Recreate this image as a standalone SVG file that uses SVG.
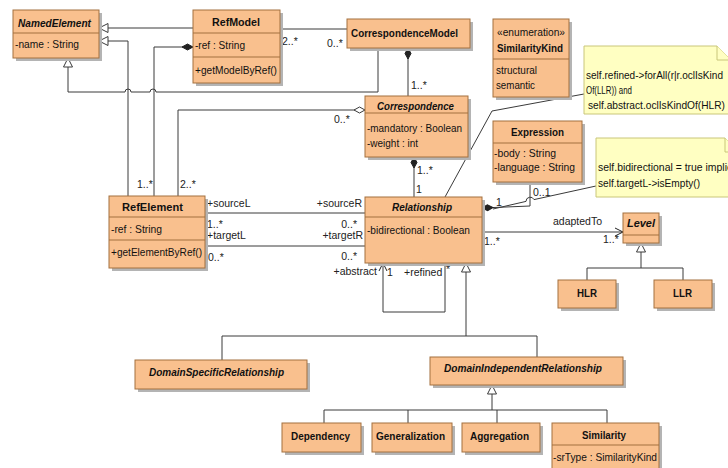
<svg xmlns="http://www.w3.org/2000/svg" width="728" height="468" viewBox="0 0 728 468">
<style>
.bx{fill:#F9C08E;stroke:#A3703F;stroke-width:1}
.sh{fill:#B4B4B4}
.dv{stroke:#A3703F;stroke-width:1}
.nt{fill:#FFFFC2;stroke:#C9C67A;stroke-width:1}
.t{font-family:"Liberation Sans",Arial,sans-serif;font-size:11px;fill:#111}
.b{font-weight:bold}
.i{font-style:italic}
.m{font-family:"Liberation Sans",Arial,sans-serif;font-size:10.5px;fill:#222}
.ln{fill:none;stroke:#3A3A3A;stroke-width:1}
</style>
<defs>
<marker id="gen" markerUnits="userSpaceOnUse" markerWidth="11" markerHeight="11" refX="9" refY="4.5" orient="auto" overflow="visible"><path d="M0,0 L9,4.5 L0,9 Z" fill="#fff" stroke="#3A3A3A" stroke-width="1"/></marker>
<marker id="comp" markerUnits="userSpaceOnUse" markerWidth="12" markerHeight="8" refX="0" refY="3" orient="auto" overflow="visible"><path d="M0,3 L5.5,0 L11,3 L5.5,6 Z" fill="#222" stroke="#222" stroke-width="1"/></marker>
<marker id="agg" markerUnits="userSpaceOnUse" markerWidth="12" markerHeight="8" refX="0" refY="3" orient="auto" overflow="visible"><path d="M0,3 L5.5,0 L11,3 L5.5,6 Z" fill="#fff" stroke="#3A3A3A" stroke-width="1"/></marker>
<marker id="arr" markerUnits="userSpaceOnUse" markerWidth="10" markerHeight="10" refX="8" refY="4" orient="auto" overflow="visible"><path d="M0,0 L8,4 L0,8" fill="none" stroke="#222" stroke-width="1"/></marker>
</defs>

<g id="connectors">
<path class="ln" d="M193,28 H99" marker-end="url(#gen)"/>
<path class="ln" d="M128,196 V41 H99" marker-end="url(#gen)"/>
<path class="ln" d="M378,48 V92 H156 a3,3 0 0 0 -6,0 H131 a3,3 0 0 0 -6,0 H68 V58" marker-end="url(#gen)"/>
<path class="ln" d="M193,47 H154 V196" marker-start="url(#comp)"/>
<path class="ln" d="M365,110 H178 V196" marker-start="url(#agg)"/>
<path class="ln" d="M280,29 H347"/>
<path class="ln" d="M408,48 V96" marker-start="url(#comp)"/>
<path class="ln" d="M414,157 V197" marker-start="url(#comp)"/>
<path class="ln" d="M482,208 L530,206 V182" marker-start="url(#comp)"/>
<path class="ln" d="M596,186 L534,199.6 a4.2,4.2 0 0 0 -8,1.8 L493,209"/>
<path class="ln" d="M445,197 L492,111 L584,94"/>
<path class="ln" d="M482,232 H623" marker-end="url(#arr)"/>
<path class="ln" d="M205,213 H365"/>
<path class="ln" d="M205,246 H365"/>
<path class="ln" d="M445,263 V312 H383 V263" marker-end="url(#arr)"/>
<path class="ln" d="M222,360 V336 H537 V357"/>
<path class="ln" d="M466,336 V263" marker-end="url(#gen)"/>
<path class="ln" d="M324,423 V410 H607 V423 M408,410 V423 M497,410 V423"/>
<path class="ln" d="M492,410 V385" marker-end="url(#gen)"/>
<path class="ln" d="M587,280 V268 H683 V280"/>
<path class="ln" d="M641,268 V243" marker-end="url(#gen)"/>
<g id="labels">
<text class="m" x="282" y="45">2..*</text>
<text class="m" x="327" y="47">0..*</text>
<text class="m" x="411" y="89">1..*</text>
<text class="m" x="334" y="123">0..*</text>
<text class="m" x="137" y="188">1..*</text>
<text class="m" x="180" y="188">2..*</text>
<text class="m" x="417" y="174">1..*</text>
<text class="m" x="416" y="193">1</text>
<text class="m" x="496" y="206">1</text>
<text class="m" x="533" y="196">0..1</text>
<text class="m" x="207" y="207">+sourceL</text>
<text class="m" x="362" y="207" text-anchor="end">+sourceR</text>
<text class="m" x="207" y="228">1..*</text>
<text class="m" x="207" y="239">+targetL</text>
<text class="m" x="357" y="228" text-anchor="end">0..*</text>
<text class="m" x="363" y="239" text-anchor="end">+targetR</text>
<text class="m" x="208" y="261">0..*</text>
<text class="m" x="357" y="260" text-anchor="end">0..*</text>
<text class="m" x="377" y="275" text-anchor="end">+abstract</text>
<text class="m" x="387" y="276">1</text>
<text class="m" x="404" y="276">+refined</text>
<text class="m" x="446" y="273">*</text>
<text class="m" x="553" y="225">adaptedTo</text>
<text class="m" x="603" y="243">1..*</text>
<text class="m" x="484" y="245">1..*</text>
</g>
</g>

<g id="NamedElement">
<rect class="sh" x="16" y="13" width="86" height="48"/>
<rect class="bx" x="13" y="10" width="86" height="48"/>
<line class="dv" x1="13" y1="33" x2="99" y2="33"/>
<text class="t b i" x="18" y="27" textLength="73" lengthAdjust="spacingAndGlyphs">NamedElement</text>
<text class="t" x="15" y="48" textLength="64" lengthAdjust="spacingAndGlyphs">-name : String</text>
</g>

<g id="RefModel">
<rect class="sh" x="196" y="13" width="87" height="73"/>
<rect class="bx" x="193" y="10" width="87" height="73"/>
<line class="dv" x1="193" y1="33" x2="280" y2="33"/>
<line class="dv" x1="193" y1="57" x2="280" y2="57"/>
<text class="t b" x="212" y="26" textLength="48" lengthAdjust="spacingAndGlyphs">RefModel</text>
<text class="t" x="195" y="49" textLength="50" lengthAdjust="spacingAndGlyphs">-ref : String</text>
<text class="t" x="195" y="74" textLength="82" lengthAdjust="spacingAndGlyphs">+getModelByRef()</text>
</g>

<g id="CorrespondenceModel">
<rect class="sh" x="350" y="22" width="123" height="29"/>
<rect class="bx" x="347" y="19" width="123" height="29"/>
<text class="t b" x="351" y="37" textLength="107" lengthAdjust="spacingAndGlyphs">CorrespondenceModel</text>
</g>

<g id="SimilarityKind">
<rect class="sh" x="496" y="22" width="76" height="78"/>
<rect class="bx" x="493" y="19" width="76" height="78"/>
<line class="dv" x1="493" y1="59" x2="569" y2="59"/>
<text class="t" x="497" y="36" textLength="68" lengthAdjust="spacingAndGlyphs">«enumeration»</text>
<text class="t b" x="497" y="52" textLength="66" lengthAdjust="spacingAndGlyphs">SimilarityKind</text>
<text class="t" x="496" y="74" textLength="41" lengthAdjust="spacingAndGlyphs">structural</text>
<text class="t" x="496" y="89" textLength="39" lengthAdjust="spacingAndGlyphs">semantic</text>
</g>

<g id="Note1">
<path class="nt" d="M584,46 H717 L731,60 V114 H584 Z"/>
<path class="nt" d="M717,46 V60 H731"/>
<text class="t" x="586" y="79" textLength="137" lengthAdjust="spacingAndGlyphs">self.refined-&gt;forAll(r|r.oclIsKind</text>
<text class="t" x="586" y="94" textLength="46" lengthAdjust="spacingAndGlyphs">Of(LLR)) and</text>
<text class="t" x="588" y="109" textLength="137" lengthAdjust="spacingAndGlyphs">self.abstract.oclIsKindOf(HLR)</text>
</g>

<g id="Expression">
<rect class="sh" x="496" y="124" width="89" height="61"/>
<rect class="bx" x="493" y="121" width="89" height="61"/>
<line class="dv" x1="493" y1="143" x2="582" y2="143"/>
<text class="t b" x="511" y="136" textLength="53" lengthAdjust="spacingAndGlyphs">Expression</text>
<text class="t" x="494" y="157" textLength="62" lengthAdjust="spacingAndGlyphs">-body : String</text>
<text class="t" x="494" y="171" textLength="81" lengthAdjust="spacingAndGlyphs">-language : String</text>
</g>

<g id="Note2">
<path class="nt" d="M596,138 H725 L739,152 V197 H596 Z"/>
<path class="nt" d="M725,138 V152 H739"/>
<text class="t" x="598" y="171" textLength="140" lengthAdjust="spacingAndGlyphs">self.bidirectional = true implies</text>
<text class="t" x="598" y="187" textLength="102" lengthAdjust="spacingAndGlyphs">self.targetL-&gt;isEmpty()</text>
</g>

<g id="Correspondence">
<rect class="sh" x="368" y="99" width="103" height="61"/>
<rect class="bx" x="365" y="96" width="103" height="61"/>
<line class="dv" x1="365" y1="113" x2="468" y2="113"/>
<text class="t b i" x="377" y="110" textLength="77" lengthAdjust="spacingAndGlyphs">Correspondence</text>
<text class="t" x="367" y="132" textLength="95" lengthAdjust="spacingAndGlyphs">-mandatory : Boolean</text>
<text class="t" x="367" y="147" textLength="51" lengthAdjust="spacingAndGlyphs">-weight : int</text>
</g>

<g id="RefElement">
<rect class="sh" x="112" y="199" width="96" height="72"/>
<rect class="bx" x="109" y="196" width="96" height="72"/>
<line class="dv" x1="109" y1="217" x2="205" y2="217"/>
<line class="dv" x1="109" y1="240" x2="205" y2="240"/>
<text class="t b" x="122" y="211" textLength="61" lengthAdjust="spacingAndGlyphs">RefElement</text>
<text class="t" x="111" y="233" textLength="51" lengthAdjust="spacingAndGlyphs">-ref : String</text>
<text class="t" x="111" y="256" textLength="91" lengthAdjust="spacingAndGlyphs">+getElementByRef()</text>
</g>

<g id="Relationship">
<rect class="sh" x="368" y="200" width="117" height="66"/>
<rect class="bx" x="365" y="197" width="117" height="66"/>
<line class="dv" x1="365" y1="217" x2="482" y2="217"/>
<text class="t b i" x="392" y="211" textLength="60" lengthAdjust="spacingAndGlyphs">Relationship</text>
<text class="t" x="367" y="234" textLength="103" lengthAdjust="spacingAndGlyphs">-bidirectional : Boolean</text>
</g>

<g id="Level">
<rect class="sh" x="626" y="216" width="36" height="30"/>
<rect class="bx" x="623" y="213" width="36" height="30"/>
<line class="dv" x1="623" y1="235" x2="659" y2="235"/>
<text class="t b i" x="627" y="227" textLength="28" lengthAdjust="spacingAndGlyphs">Level</text>
</g>

<g id="HLR">
<rect class="sh" x="561" y="283" width="58" height="28"/>
<rect class="bx" x="558" y="280" width="58" height="28"/>
<text class="t b" x="577" y="297" textLength="20" lengthAdjust="spacingAndGlyphs">HLR</text>
</g>

<g id="LLR">
<rect class="sh" x="657" y="283" width="58" height="28"/>
<rect class="bx" x="654" y="280" width="58" height="28"/>
<text class="t b" x="673" y="297" textLength="19" lengthAdjust="spacingAndGlyphs">LLR</text>
</g>

<g id="DomainSpecificRelationship">
<rect class="sh" x="138" y="363" width="172" height="29"/>
<rect class="bx" x="135" y="360" width="172" height="29"/>
<text class="t b i" x="149" y="376" textLength="135" lengthAdjust="spacingAndGlyphs">DomainSpecificRelationship</text>
</g>

<g id="DomainIndependentRelationship">
<rect class="sh" x="433" y="360" width="193" height="28"/>
<rect class="bx" x="430" y="357" width="193" height="28"/>
<text class="t b i" x="444" y="372" textLength="158" lengthAdjust="spacingAndGlyphs">DomainIndependentRelationship</text>
</g>

<g id="Dependency">
<rect class="sh" x="285" y="426" width="79" height="29"/>
<rect class="bx" x="282" y="423" width="79" height="29"/>
<text class="t b" x="291" y="440" textLength="59" lengthAdjust="spacingAndGlyphs">Dependency</text>
</g>

<g id="Generalization">
<rect class="sh" x="375" y="426" width="80" height="29"/>
<rect class="bx" x="372" y="423" width="80" height="29"/>
<text class="t b" x="376" y="440" textLength="69" lengthAdjust="spacingAndGlyphs">Generalization</text>
</g>

<g id="Aggregation">
<rect class="sh" x="465" y="426" width="78" height="29"/>
<rect class="bx" x="462" y="423" width="78" height="29"/>
<text class="t b" x="470" y="440" textLength="59" lengthAdjust="spacingAndGlyphs">Aggregation</text>
</g>

<g id="Similarity">
<rect class="sh" x="555" y="426" width="107" height="50"/>
<rect class="bx" x="552" y="423" width="107" height="50"/>
<line class="dv" x1="552" y1="445" x2="659" y2="445"/>
<text class="t b" x="582" y="439" textLength="44" lengthAdjust="spacingAndGlyphs">Similarity</text>
<text class="t" x="553" y="461" textLength="104" lengthAdjust="spacingAndGlyphs">-srType : SimilarityKind</text>
</g>
</svg>
